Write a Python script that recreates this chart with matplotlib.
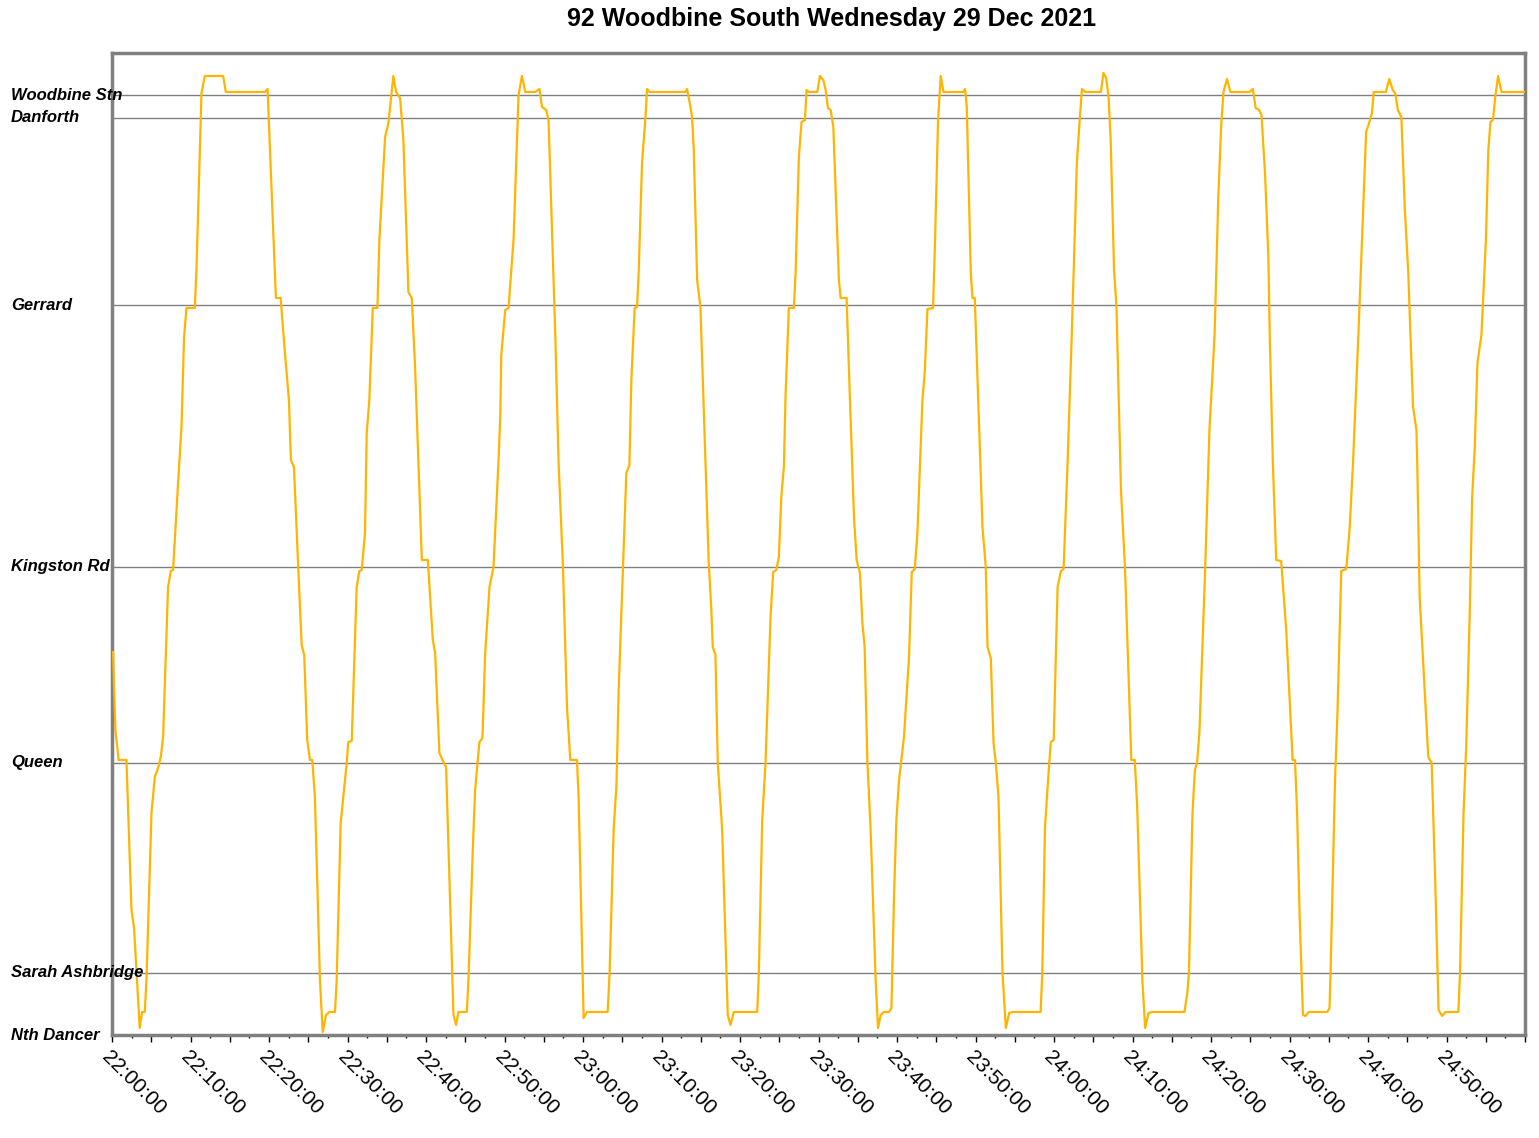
import matplotlib
matplotlib.use("Agg")
import matplotlib.pyplot as plt
import matplotlib.transforms as mtransforms
from matplotlib.ticker import MultipleLocator, FuncFormatter

plt.rcParams['font.family'] = ['Liberation Sans', 'DejaVu Sans']

# stops along the 92 route, distance from Nth Dancer (km)
stations = ["Nth Dancer", "Sarah Ashbridge", "Queen", "Kingston Rd",
            "Gerrard", "Danforth", "Woodbine Stn"]
station_km = [0.0, 0.62, 2.72, 4.68, 7.30, 9.17, 9.40]

# bus position: minutes after 22:00 and distance (km)
minutes = [0.13, 0.43, 0.85, 1.84, 2.48, 2.81, 3.53, 3.83, 4.17, 4.39, 5.03, 5.45, 5.87, 6.21, 6.51,
           7.14, 7.49, 7.78, 8.42, 8.85, 9.18, 9.49, 10.55, 10.77, 11.40, 11.82, 14.16, 14.50, 19.48,
           19.82, 20.11, 20.88, 21.48, 22.03, 22.54, 22.79, 23.18, 23.72, 24.16, 24.49, 24.87, 25.22,
           25.51, 25.85, 26.49, 26.84, 27.26, 27.68, 28.41, 28.62, 29.13, 29.46, 29.90, 30.10, 30.54,
           31.17, 31.51, 31.81, 32.23, 32.45, 32.78, 33.22, 33.81, 34.06, 34.79, 35.21, 35.84, 36.19,
           36.70, 37.12, 37.76, 38.19, 38.61, 39.03, 39.47, 40.23, 40.87, 41.16, 41.71, 42.22, 42.56,
           42.86, 43.50, 43.84, 44.13, 45.20, 45.41, 45.97, 46.26, 46.56, 46.81, 47.19, 47.54, 48.09,
           48.39, 48.60, 49.24, 49.46, 49.59, 50.09, 50.51, 51.15, 51.79, 52.22, 52.65, 53.92, 54.46,
           54.77, 55.32, 55.61, 56.47, 56.89, 57.45, 57.96, 58.38, 59.23, 59.44, 60.08, 60.51, 63.14,
           63.39, 63.90, 64.25, 64.34, 64.54, 65.10, 65.52, 65.91, 66.16, 66.58, 66.89, 67.09, 67.52,
           67.95, 68.16, 68.49, 73.05, 73.26, 73.69, 73.90, 74.11, 74.54, 74.96, 75.47, 76.02, 76.33,
           76.53, 76.87, 77.17, 77.73, 78.44, 78.79, 79.21, 82.19, 82.40, 82.83, 83.25, 83.47, 83.89,
           84.23, 84.62, 84.95, 85.26, 85.59, 85.80, 86.22, 86.86, 87.08, 87.50, 87.84, 88.27, 88.48,
           88.78, 89.85, 90.18, 90.61, 90.91, 91.20, 91.55, 91.89, 92.60, 92.82, 93.58, 93.88, 94.52,
           94.86, 95.28, 95.59, 95.88, 96.22, 96.64, 97.28, 97.58, 97.92, 98.34, 98.98, 99.29, 99.62,
           99.92, 100.26, 100.69, 100.89, 101.53, 101.88, 102.26, 102.60, 103.24, 103.53, 103.88,
           104.59, 104.85, 105.23, 105.57, 105.92, 108.47, 108.67, 108.89, 109.40, 109.62, 109.91,
           110.55, 110.89, 111.31, 111.53, 111.95, 112.30, 112.59, 112.93, 113.44, 113.86, 114.29,
           114.72, 118.29, 118.51, 118.85, 119.39, 119.60, 119.96, 120.46, 120.88, 121.22, 121.73,
           122.24, 122.55, 122.91, 123.25, 123.56, 124.00, 125.98, 126.29, 126.65, 126.95, 127.22,
           127.65, 127.96, 128.53, 129.04, 129.30, 129.85, 130.29, 130.60, 131.26, 131.61, 132.05,
           132.49, 136.62, 136.98, 137.19, 137.64, 137.95, 138.22, 138.52, 139.25, 139.80, 140.46,
           140.93, 141.29, 141.59, 142.04, 142.47, 144.90, 145.33, 145.69, 146.12, 146.43, 146.88,
           147.31, 147.48, 147.88, 148.31, 148.94, 149.58, 150.40, 150.70, 150.97, 151.28, 151.71,
           152.02, 152.46, 154.80, 155.10, 155.23, 155.80, 156.11, 156.59, 157.23, 157.65, 158.09,
           158.80, 159.40, 159.76, 160.06, 160.51, 160.73, 162.27, 162.71, 163.15, 163.46, 163.81,
           164.25, 164.68, 165.13, 165.74, 166.17, 166.29, 166.58, 167.22, 167.68, 168.11, 168.56,
           168.99, 169.44, 169.87, 171.51, 171.72, 172.17, 172.51, 172.96, 173.27, 173.60, 173.94,
           174.45, 175.02, 175.33, 175.60, 175.91, 176.21, 176.57, 177.00, 180.00]
km = [3.83, 3.05, 2.75, 2.75, 1.25, 1.07, 0.07, 0.23, 0.23, 0.55, 2.22, 2.58, 2.67, 2.78, 2.98,
      4.48, 4.64, 4.65, 5.52, 6.08, 6.98, 7.27, 7.27, 7.68, 9.42, 9.59, 9.59, 9.43, 9.43,
      9.46, 8.88, 7.37, 7.37, 6.82, 6.35, 5.75, 5.68, 4.68, 3.90, 3.80, 2.95, 2.75,
      2.75, 2.38, 0.55, 0.03, 0.20, 0.23, 0.23, 0.55, 2.12, 2.38, 2.72, 2.93, 2.94,
      4.48, 4.64, 4.65, 5.02, 6.02, 6.35, 7.27, 7.27, 7.95, 8.98, 9.12, 9.59, 9.43,
      9.37, 8.95, 7.43, 7.37, 6.68, 5.75, 4.75, 4.75, 3.95, 3.82, 2.82, 2.73, 2.68,
      1.88, 0.20, 0.10, 0.23, 0.23, 0.55, 1.88, 2.45, 2.72, 2.93, 2.97, 3.82, 4.48,
      4.60, 4.68, 5.75, 6.18, 6.80, 7.25, 7.27, 7.95, 9.40, 9.59, 9.43, 9.43, 9.46,
      9.28, 9.25, 9.15, 7.00, 5.72, 4.68, 3.28, 2.75, 2.75, 2.38, 0.17, 0.23, 0.23,
      0.62, 2.05, 2.48, 2.75, 3.45, 4.68, 5.62, 5.70, 6.55, 7.27, 7.28, 7.62, 8.72,
      9.17, 9.46, 9.43, 9.43, 9.46, 9.28, 9.17, 8.85, 7.55, 7.28, 6.05, 4.72, 4.28,
      3.88, 3.80, 2.72, 2.05, 0.20, 0.10, 0.23, 0.23, 0.62, 2.15, 2.72, 3.22, 4.18,
      4.63, 4.65, 4.78, 5.38, 5.68, 6.38, 7.27, 7.27, 7.62, 8.78, 9.13, 9.15, 9.45,
      9.43, 9.43, 9.59, 9.55, 9.45, 9.27, 9.25, 9.08, 7.55, 7.37, 7.37, 6.65, 5.18,
      4.75, 4.62, 4.12, 3.88, 2.75, 2.05, 0.55, 0.07, 0.20, 0.23, 0.23, 0.27, 1.38,
      2.15, 2.55, 2.85, 2.98, 3.78, 4.63, 4.66, 5.02, 6.35, 6.62, 7.26,
      7.27, 7.95, 9.15, 9.59, 9.43, 9.43, 9.46, 9.28, 7.62, 7.37, 7.37,
      5.88, 5.08, 4.68, 3.88, 3.77, 2.92, 2.72, 2.38, 0.62, 0.07, 0.22,
      0.23, 0.23, 0.62, 2.08, 2.72, 2.93, 2.95, 4.48, 4.64, 4.66, 5.72,
      6.95, 7.75, 8.72, 9.12, 9.46, 9.43, 9.43, 9.62, 9.57, 9.38, 8.95,
      7.65, 7.28, 5.45, 4.68, 4.05, 2.75, 2.75, 2.28, 0.55, 0.07, 0.22,
      0.23, 0.23, 0.42, 0.62, 2.22, 2.65, 2.72, 3.02, 4.65, 6.05, 7.00,
      8.38, 9.08, 9.43, 9.56, 9.43, 9.43, 9.46, 9.27, 9.25, 9.20, 8.62,
      7.78, 7.00, 5.72, 4.75, 4.74, 4.05, 2.75, 2.75, 2.22, 1.22, 0.20,
      0.19, 0.23, 0.23, 0.27, 0.62, 2.55, 3.22, 4.64, 4.66, 5.05, 5.72,
      7.05, 8.28, 9.03, 9.10, 9.22, 9.43, 9.43, 9.56, 9.45, 9.42, 9.25,
      9.18, 8.28, 7.62, 6.28, 6.05, 5.65, 4.38, 3.45, 2.78, 2.72, 1.55,
      0.25, 0.19, 0.23, 0.23, 0.62, 2.22, 2.88, 4.22, 5.38, 5.88, 6.72,
      7.00, 7.95, 8.85, 9.13, 9.15, 9.38, 9.59, 9.43, 9.43]

title = "92 Woodbine South Wednesday 29 Dec 2021"
start_hour = 22


def clock(m, pos=None):
    m = int(round(m))
    # label every 10 minutes, last label is 24:50
    if m % 10 != 0 or m >= 180:
        return ""
    return "%02d:%02d:00" % (start_hour + m // 60, m % 60)


fig = plt.figure(figsize=(15.39, 11.38), dpi=100)
ax = fig.add_axes([112 / 1539, 1 - 1035 / 1138, 1413 / 1539, 982 / 1138])

# station grid lines
for s in station_km:
    ax.axhline(s, color='#808080', lw=1.0, zorder=1)

ax.plot(minutes, km, color='#FFB400', lw=1.6, zorder=3)

ax.set_xlim(0, 180)
ax.set_ylim(0, 9.82)

ax.xaxis.set_major_locator(MultipleLocator(5))
ax.xaxis.set_minor_locator(MultipleLocator(2.5))
ax.xaxis.set_major_formatter(FuncFormatter(clock))
ax.tick_params(axis='x', which='major', length=5, width=1, color='black', labelsize=15, pad=4)
ax.tick_params(axis='x', which='minor', length=2, width=1, color='black')
for lbl in ax.get_xticklabels():
    lbl.set_rotation(-45)
    lbl.set_ha('left')
    lbl.set_va('top')
    lbl.set_rotation_mode('anchor')

ax.set_yticks([])

# station names sit at the left edge of the figure
trans = mtransforms.blended_transform_factory(fig.transFigure, ax.transData)
for name, s in zip(stations, station_km):
    ax.text(11 / 1539, s, name, transform=trans, ha='left', va='center',
            fontsize=12, fontweight='bold', fontstyle='italic', zorder=5, clip_on=False)

for sp in ax.spines.values():
    sp.set_color('#808080')
    sp.set_linewidth(2.5)

fig.text(832 / 1539, 1 - 19 / 1138, title, ha='center', va='center', fontsize=18, fontweight='bold')

fig.savefig("out.png", dpi=100)
